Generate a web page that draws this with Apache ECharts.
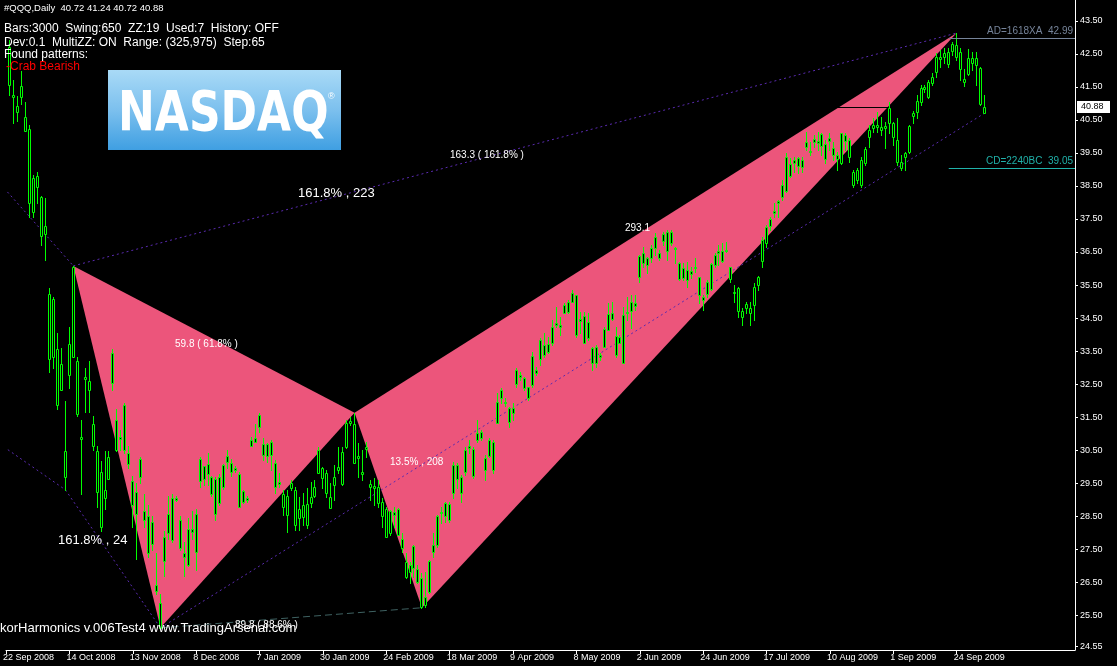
<!DOCTYPE html>
<html><head><meta charset="utf-8">
<script src="https://cdn.jsdelivr.net/npm/echarts@6/dist/echarts.min.js"></script>
<style>html,body{margin:0;padding:0;background:#000;overflow:hidden}#c{width:1117px;height:666px}</style>
</head><body><div id="c"></div>
<script>
// ---- data ----
const firstBar = -1;
const opens = [42.71,
41.25,40.92,41.53,40.59,40.23,38.74,38.80,38.17,37.29,35.23,
35.08,33.57,33.11,30.48,33.72,36.05,33.20,30.90,32.72,32.60,
31.30,30.48,29.84,29.30,30.30,33.45,31.42,30.90,31.87,30.42,
29.57,29.24,30.24,28.66,28.51,28.33,26.42,25.88,27.87,28.57,
29.06,29.06,28.39,27.39,28.12,28.12,28.57,30.24,30.02,30.09,
29.69,29.63,29.69,30.06,30.33,30.12,29.96,29.78,29.27,29.06,
30.81,30.87,31.57,30.69,30.69,30.75,30.12,29.54,29.18,29.12,
29.51,29.30,28.72,28.84,28.87,29.09,29.39,30.51,29.96,29.81,
29.09,29.69,29.99,30.45,31.33,31.39,31.30,30.33,29.84,30.60,
29.48,29.42,29.39,28.93,28.72,28.66,28.63,28.72,27.81,27.12,
27.03,27.60,26.91,26.63,26.06,27.15,27.63,28.51,28.63,28.90,
28.87,30.06,30.06,29.69,30.51,30.63,30.54,31.02,31.05,30.27,
30.81,30.75,31.96,32.32,31.96,31.78,31.78,32.93,32.78,32.69,
32.42,33.35,32.93,33.84,33.69,33.72,34.23,34.35,34.29,34.90,
34.99,35.26,35.20,34.47,34.56,34.38,33.60,33.63,33.38,34.17,
34.63,34.66,33.96,33.93,34.60,34.69,34.99,34.96,36.38,36.47,
36.32,36.62,36.96,36.47,37.05,37.11,37.11,36.62,36.17,36.02,
35.96,35.93,36.05,35.75,35.14,35.59,36.14,36.41,36.53,36.53,
36.56,36.05,35.29,35.41,34.72,34.93,34.81,35.44,35.75,36.87,
37.26,37.50,37.74,38.05,38.53,39.38,39.17,39.29,39.35,39.29,
39.83,39.56,39.92,39.86,40.07,39.77,39.95,39.65,39.44,40.10,
40.04,39.89,38.92,38.98,39.29,39.62,40.20,40.35,40.35,40.29,
40.32,40.86,40.41,39.89,39.23,39.50,40.32,40.71,41.07,41.47,
41.50,41.65,41.80,42.40,42.40,42.53,42.56,42.80,42.77,42.56,
41.74,42.37,42.37,42.37,42.07,40.72];
const closes = [41.56,
41.19,40.74,41.19,40.17,37.99,37.71,38.47,36.99,37.05,33.26,
33.32,31.87,32.32,29.69,32.78,33.32,31.60,30.84,32.66,32.32,
30.63,29.24,28.18,29.06,29.63,32.54,30.51,30.84,30.51,30.09,
28.84,28.57,29.69,28.39,27.39,27.66,26.24,25.12,27.15,28.00,
27.78,28.99,27.54,27.27,27.03,28.03,27.42,29.57,29.63,29.78,
29.18,28.57,28.90,29.39,30.15,29.84,29.90,28.78,28.93,28.99,
30.63,30.75,31.20,30.36,30.33,30.36,29.39,29.48,28.78,28.54,
29.36,28.24,28.45,28.48,28.24,28.90,29.12,29.81,29.66,29.21,
28.75,29.45,29.90,29.48,30.60,31.33,30.12,30.27,29.78,30.54,
29.39,29.36,28.90,28.51,27.87,28.00,28.54,27.94,27.54,26.66,
26.82,26.94,26.51,25.76,25.82,26.21,27.42,27.63,28.60,28.51,
28.39,29.21,29.63,29.21,29.84,30.57,29.72,30.81,30.87,29.90,
30.33,29.90,31.33,32.08,31.93,31.36,31.63,32.51,32.72,32.38,
32.08,32.48,32.84,33.26,33.38,33.48,33.75,34.29,34.23,34.66,
34.69,34.99,33.99,34.41,33.75,33.90,33.14,33.14,33.32,33.63,
34.14,34.47,33.38,33.75,33.14,34.66,34.72,34.87,35.75,36.17,
36.11,36.32,36.62,36.32,36.84,36.53,36.77,36.59,35.68,35.71,
35.65,35.84,36.02,35.20,35.05,35.23,35.38,36.11,36.47,36.23,
36.53,35.68,35.26,34.72,34.54,34.81,34.66,34.90,35.50,36.23,
36.77,37.29,37.68,37.99,38.17,38.35,38.80,39.20,39.11,39.08,
39.68,39.53,39.83,39.80,39.71,39.32,39.86,39.44,39.32,39.20,
39.86,39.38,38.53,38.68,38.53,39.20,39.98,40.26,40.29,40.20,
40.26,40.41,39.98,39.23,39.05,39.38,39.53,40.62,40.74,41.04,
41.44,41.19,41.62,41.95,42.34,42.40,42.19,42.59,42.40,42.04,
41.65,41.89,42.22,42.16,40.98,40.88];
const lows = [41.25,
40.41,40.47,40.98,40.17,37.56,37.56,37.99,36.71,36.26,32.87,
32.99,31.75,32.32,29.30,32.38,33.32,31.54,29.18,31.66,31.66,
30.51,28.78,28.06,28.72,29.63,32.32,30.48,30.51,30.42,29.96,
28.18,27.21,29.51,28.18,27.27,27.48,26.15,25.12,26.69,27.81,
27.72,28.96,27.48,26.69,27.00,27.81,26.88,29.39,29.45,29.45,
29.12,28.39,28.84,29.33,29.96,29.72,29.84,28.78,28.90,28.93,
30.63,30.75,31.05,30.21,30.15,29.90,29.21,29.39,28.54,28.03,
29.30,28.09,28.09,28.24,28.15,28.78,29.09,29.81,29.36,29.09,
28.75,28.99,29.81,29.45,30.57,31.26,30.12,29.69,29.60,30.30,
28.99,28.84,28.78,28.18,27.87,27.94,28.18,27.94,27.42,26.63,
26.48,26.66,26.48,25.73,25.76,26.18,27.27,27.57,28.30,28.33,
28.33,29.06,29.36,28.93,29.75,30.42,29.66,30.75,30.81,29.60,
30.30,29.81,31.33,31.93,31.84,31.20,31.42,32.42,32.63,32.32,
32.02,32.42,32.78,33.08,33.32,33.45,33.69,34.23,34.00,34.66,
34.66,34.99,33.93,34.05,33.75,33.84,32.93,33.02,33.23,33.63,
34.14,34.44,33.32,33.75,33.14,34.44,34.20,34.75,35.60,36.05,
35.87,36.20,36.41,36.26,36.71,36.26,36.71,36.17,35.65,35.65,
35.44,35.71,35.90,34.96,34.75,35.14,35.35,36.05,36.11,36.20,
36.50,35.60,34.99,34.53,34.29,34.66,34.29,34.44,35.35,36.05,
36.65,37.17,37.56,37.56,38.08,38.32,38.77,38.92,38.89,38.92,
39.59,39.44,39.68,39.59,39.44,39.20,39.59,39.29,38.98,39.17,
39.59,39.23,38.47,38.59,38.47,39.14,39.68,40.13,40.13,40.04,
39.65,40.10,39.74,39.14,38.98,38.98,39.50,40.41,40.56,40.95,
41.35,41.16,41.56,41.80,42.10,42.22,42.10,42.47,42.31,41.71,
41.53,41.86,42.01,41.56,40.95,40.72];
const highs = [42.92,
41.71,41.22,41.98,41.04,40.35,38.83,38.92,38.20,38.14,35.41,
35.14,34.05,33.60,31.99,34.23,36.08,33.32,31.42,32.99,33.20,
31.54,30.63,30.18,30.48,30.48,33.57,31.75,31.11,31.93,30.63,
29.72,29.51,30.30,29.18,28.84,28.51,27.39,26.15,28.06,29.12,
29.18,29.12,28.51,27.72,28.45,28.66,28.72,30.30,30.02,30.42,
29.72,29.69,29.78,30.09,30.51,30.24,30.02,29.84,29.30,29.12,
30.90,31.30,31.63,30.87,30.72,30.81,30.21,29.81,29.30,29.30,
29.60,29.39,29.09,29.21,29.36,29.54,29.60,30.60,29.99,29.90,
29.51,30.06,30.60,30.60,31.42,31.51,31.63,30.72,30.51,30.75,
29.60,29.66,29.60,29.06,28.78,28.69,28.78,28.75,28.00,27.39,
27.12,27.63,27.03,26.79,26.82,27.18,28.00,28.54,28.78,28.93,
28.93,30.15,30.12,29.75,30.60,30.81,30.60,31.42,31.11,30.36,
30.87,30.81,32.23,32.38,32.08,31.81,31.93,32.99,32.87,32.72,
32.42,33.48,33.02,33.90,34.05,33.93,34.44,34.84,34.54,34.96,
35.05,35.35,35.20,34.69,34.69,34.66,33.63,33.69,33.45,34.23,
34.96,34.99,34.23,33.99,34.84,35.14,35.20,35.20,36.41,36.65,
36.35,36.71,37.08,36.56,37.11,37.17,37.17,36.65,36.20,36.17,
36.20,36.05,36.32,35.75,35.20,35.65,36.17,36.47,36.71,36.77,
36.80,36.05,35.50,35.44,34.81,34.99,34.99,35.56,35.78,36.96,
37.32,37.56,37.99,38.08,38.68,39.50,39.35,39.38,39.38,39.38,
40.13,39.83,40.04,40.13,40.10,39.89,40.10,39.83,39.53,40.10,
40.10,39.95,38.98,39.05,39.38,39.68,40.35,40.56,40.74,40.59,
40.44,41.04,40.44,40.56,39.44,39.53,40.35,40.77,41.25,41.56,
41.56,41.71,41.92,42.53,42.62,42.68,42.68,42.86,43.13,42.68,
42.04,42.65,42.56,42.56,42.10,41.24];

const dateLabels = ['22 Sep 2008','14 Oct 2008','13 Nov 2008','8 Dec 2008','7 Jan 2009','30 Jan 2009',
  '24 Feb 2009','18 Mar 2009','9 Apr 2009','8 May 2009','2 Jun 2009','24 Jun 2009','17 Jul 2009',
  '10 Aug 2009','1 Sep 2009','24 Sep 2009'];
const barsPerLabel = 16;
const firstLabelBar = -2;
const priceTicks = [24.55,25.5,26.5,27.5,28.5,29.5,30.5,31.5,32.5,33.5,34.5,35.5,36.5,37.5,38.5,39.5,40.5,41.5,42.5,43.5];
const lastPrice = 40.88;
const priceLineBars = [208, 221];

const patternBars = [15, 37, 86, 103, 238];      // X A B C D
const patternPrices = [36.08, 25.12, 31.63, 25.73, 43.13];

const levelNames = ['AD=1618XA', 'CD=2240BC'];
const levelValues = [42.99, 39.05];
const levelStartBar = 236;

// guide lines: [fromBar, fromPrice, toBar, toPrice]
const dottedLines = [
  [-15, 31.64, 13, 29.30],
  [13, 29.30, 37, 25.12],
  [-5, 38.77, 15, 36.08],
  [15, 36.08, 238, 43.13],
  [37, 25.12, 245, 40.70]
];
const dashedLines = [
  [37, 25.12, 103, 25.73]
];

// ---- build ----
const dateLabelBars = dateLabels.map((_, i) => firstLabelBar + i * barsPerLabel);
const candleData = opens.map((o, i) => [firstBar + i, o, closes[i], lows[i], highs[i]]);

const LIME = '#00ff00';
const PINK = '#ec557b';
const VIOLET = '#5a2bb0';

function candleRender(params, api) {
  const k = api.value(0);
  const o = api.coord([k, api.value(1)]);
  const c = api.coord([k, api.value(2)]);
  const l = api.coord([k, api.value(3)]);
  const h = api.coord([k, api.value(4)]);
  const x = Math.round(h[0] - 0.5) + 0.5;
  const top = Math.round(Math.min(o[1], c[1])) + 0.5;
  const bot = Math.round(Math.max(o[1], c[1])) + 0.5;
  return {
    type: 'group',
    children: [
      { type: 'line', shape: { x1: x, y1: Math.round(h[1]), x2: x, y2: Math.round(l[1]) + 1 },
        style: { stroke: LIME, lineWidth: 1 } },
      { type: 'rect', shape: { x: x - 1, y: top, width: 2, height: Math.max(bot - top, 0) },
        style: { fill: '#000', stroke: LIME, lineWidth: 1 } }
    ]
  };
}

function triRender(params, api) {
  const tris = [[0, 1, 2], [2, 3, 4]];
  const t = tris[params.dataIndex];
  const pts = t.map(i => api.coord([patternBars[i], patternPrices[i]]));
  return { type: 'polygon', shape: { points: pts }, style: { fill: PINK } };
}

function lineRenderFactory(list, color, dash) {
  return function (params, api) {
    const d = list[params.dataIndex];
    const p1 = api.coord([d[0], d[1]]);
    const p2 = api.coord([d[2], d[3]]);
    return { type: 'line', shape: { x1: p1[0], y1: p1[1], x2: p2[0], y2: p2[1] },
      style: { stroke: color, lineWidth: 1, lineDash: dash } };
  };
}

function levelRender(params, api) {
  const i = params.dataIndex;
  const cs = params.coordSys;
  const p = api.coord([levelStartBar, levelValues[i]]);
  const right = cs.x + cs.width;
  const y = Math.round(p[1]) + 0.5;
  const col = i === 0 ? '#76849a' : '#20b2aa';
  return {
    type: 'group',
    children: [
      { type: 'line', shape: { x1: p[0], y1: y, x2: right, y2: y }, style: { stroke: col, lineWidth: 1 } },
      { type: 'text', x: right - 2, y: y - 2,
        style: { text: levelNames[i] + '  ' + levelValues[i].toFixed(2), fill: col,
          font: '10px "Liberation Sans", Arial, sans-serif', align: 'right', verticalAlign: 'bottom' } }
    ]
  };
}

function priceLineRender(params, api) {
  const p1 = api.coord([priceLineBars[0], lastPrice]);
  const p2 = api.coord([priceLineBars[1], lastPrice]);
  const y = Math.round(p1[1]) + 0.5;
  return { type: 'line', shape: { x1: p1[0], y1: y, x2: p2[0], y2: y },
    style: { stroke: '#000', lineWidth: 1 } };
}

function priceBoxRender(params, api) {
  const cs = params.coordSys;
  const p = api.coord([0, lastPrice]);
  const x = cs.x + cs.width + 2;
  const y = Math.round(p[1]);
  return {
    type: 'group',
    children: [
      { type: 'rect', shape: { x: x, y: y - 6, width: 33, height: 12 }, style: { fill: '#fff' } },
      { type: 'text', x: x + 4, y: y, style: { text: lastPrice.toFixed(2), fill: '#000',
        font: '9px "Liberation Sans", Arial, sans-serif', verticalAlign: 'middle' } }
    ]
  };
}

const chart = echarts.init(document.getElementById('c'), null, { renderer: 'canvas' });
const txtFont = (s, w) => (w || 'normal') + ' ' + s + 'px "Liberation Sans", Arial, sans-serif';
const T = (x, y, text, size, color) => ({ type: 'text', x: x, y: y, z: 100, zlevel: 0,
  style: { text: text, fill: color || '#fff', font: txtFont(size), verticalAlign: 'top' } });

chart.setOption({
  backgroundColor: '#000',
  animation: false,
  grid: { left: -4.5, top: 0, width: 1079.5, height: 650, containLabel: false },
  xAxis: {
    type: 'value', min: -2, max: 267.875, position: 'bottom',
    axisLine: { show: true, onZero: false, lineStyle: { color: '#fff', width: 1 } },
    axisTick: { show: true, customValues: dateLabelBars, length: 4, lineStyle: { color: '#fff' } },
    axisLabel: { customValues: dateLabelBars, color: '#fff', fontSize: 9, margin: 3, align: 'left',
      fontFamily: '"Liberation Sans", Arial, sans-serif',
      padding: [0, 0, 0, -3],
      formatter: v => { const i = dateLabelBars.indexOf(Math.round(v)); return i >= 0 ? dateLabels[i] : ''; } },
    splitLine: { show: false }
  },
  yAxis: {
    type: 'value', min: 24.45, max: 44.13, position: 'right',
    axisLine: { show: true, onZero: false, lineStyle: { color: '#fff', width: 1 } },
    axisTick: { show: true, customValues: priceTicks, length: 3, lineStyle: { color: '#fff' } },
    axisLabel: { customValues: priceTicks, color: '#fff', fontSize: 9, margin: 5,
      fontFamily: '"Liberation Sans", Arial, sans-serif', formatter: v => v.toFixed(2) },
    splitLine: { show: false }
  },
  series: [
    { type: 'custom', name: 'pattern', renderItem: triRender, data: [[0, 30], [1, 30]], z: 1, silent: true, clip: true },
    { type: 'custom', name: 'price line', renderItem: priceLineRender, data: [[priceLineBars[0], lastPrice]], z: 2, silent: true, clip: true },
    { type: 'custom', name: 'dotted', renderItem: lineRenderFactory(dottedLines, VIOLET, [2, 3]),
      data: dottedLines.map(d => [d[0], d[1]]), z: 3, silent: true, clip: true },
    { type: 'custom', name: 'dashed', renderItem: lineRenderFactory(dashedLines, '#3f6262', [7, 4]),
      data: dashedLines.map(d => [d[0], d[1]]), z: 3, silent: true, clip: true },
    { type: 'custom', name: 'candles', renderItem: candleRender, data: candleData,
      encode: { x: 0, y: [1, 2, 3, 4] }, z: 5, silent: true, clip: true },
    { type: 'custom', name: 'levels', renderItem: levelRender, data: levelValues.map(v => [levelStartBar, v]),
      z: 6, silent: true, clip: false },
    { type: 'custom', name: 'price box', renderItem: priceBoxRender, data: [[245, lastPrice]], z: 7, silent: true, clip: false }
  ],
  graphic: { elements: [
    T(4, 3, '#QQQ,Daily  40.72 41.24 40.72 40.88', 9.5),
    T(4, 23, 'Bars:3000  Swing:650  ZZ:19  Used:7  History: OFF', 12),
    T(4, 37, 'Dev:0.1  MultiZZ: ON  Range: (325,975)  Step:65', 12),
    T(4, 49, 'Found patterns:', 12),
    T(6, 61, '-Crab Bearish', 12, '#ff0000'),
    { type: 'group', x: 108, y: 70, z: 100, children: [
      { type: 'rect', z: 100, shape: { x: 0, y: 0, width: 233, height: 80 },
        style: { fill: new echarts.graphic.LinearGradient(0, 0, 0, 1, [
          { offset: 0, color: '#a9daf6' }, { offset: 0.5, color: '#7cc0ee' }, { offset: 1, color: '#3f9fe2' }]) } },
      { type: 'text', z: 101, x: 10, y: 46, scaleX: 0.8,
        style: { text: 'NASDAQ', fill: '#ffffff', font: 'bold 55px "DejaVu Sans", sans-serif', verticalAlign: 'middle',
          shadowColor: 'rgba(40,80,120,0.6)', shadowOffsetX: 2, shadowOffsetY: 3, shadowBlur: 1 } },
      { type: 'text', z: 101, x: 220, y: 27, style: { text: '®', fill: '#fff', font: txtFont(9), verticalAlign: 'middle' } }
    ] },
    T(175, 339, '59.8 ( 61.8% )', 10),
    T(390, 457, '13.5% , 208', 10),
    T(625, 223, '293.1', 10),
    T(298, 187, '161.8% , 223', 13),
    T(450, 150, '163.3 ( 161.8% )', 10),
    T(58, 534, '161.8% , 24', 13),
    T(235, 620, '89.8 ( 88.6% )', 10),
    T(0, 622, 'korHarmonics v.006Test4 www.TradingArsenal.com', 13)
  ] }
});
</script>
</body></html>
